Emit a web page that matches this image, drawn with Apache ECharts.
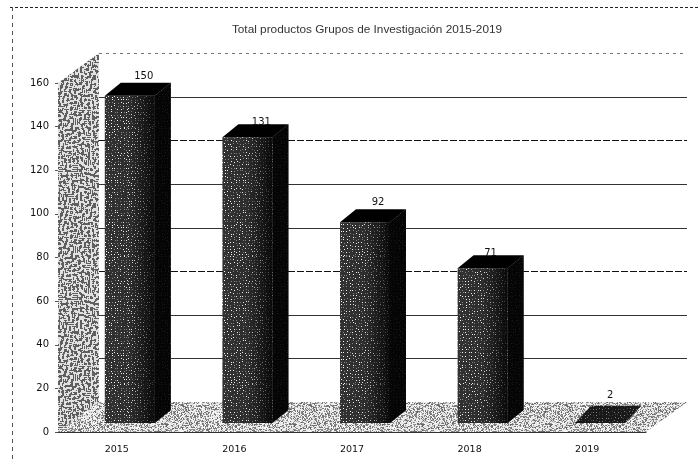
<!DOCTYPE html>
<html>
<head>
<meta charset="utf-8">
<style>html,body{margin:0;padding:0;background:#fff}#c{width:699px;height:463px}</style>
<script src="https://cdn.jsdelivr.net/npm/echarts@6/dist/echarts.min.js"></script>
</head>
<body>
<div id="c"></div>
<script>
var titleText = 'Total productos Grupos de Investigación 2015-2019';
var categories = ['2015', '2016', '2017', '2018', '2019'];
var values = [150, 131, 92, 71, 2];
var yTicks = [20, 40, 60, 80, 100, 120, 140, 160];
var dashedTicks = [120, 60];
var faintTicks = [160];
var labelLift = [1, -3, 2, -3, 5];
var labelShift = [-1, -1, -2, -7, -5];

// 3D projection, in pixels
var WALL_DX = 41, WALL_DY = 30;
var BAR_DX = 13, BAR_DY = 9, BAR_DEPTH_X = 16, BAR_DEPTH_Y = 13;

function rng(seed) {
  var s = seed >>> 0;
  return function () { s = (Math.imul(s, 1664525) + 1013904223) >>> 0; return s / 4294967296; };
}
function makeTile(n, paint) {
  var cv = document.createElement('canvas');
  cv.width = cv.height = n;
  var ctx = cv.getContext('2d');
  var img = ctx.createImageData(n, n);
  for (var y = 0; y < n; y++) for (var x = 0; x < n; x++) {
    var g = paint(x, y), i = (y * n + x) * 4;
    img.data[i] = img.data[i + 1] = img.data[i + 2] = g;
    img.data[i + 3] = 255;
  }
  ctx.putImageData(img, 0, 0);
  return cv;
}
function labyrinth() {
  var n = 128, r = rng(7), a = [];
  for (var i = 0; i < n * n; i++) a.push(r() > 0.5 ? 1 : 0);
  function box(src, x, y, rad) {
    var sum = 0, c = 0;
    for (var dy = -rad; dy <= rad; dy++) for (var dx = -rad; dx <= rad; dx++) {
      sum += src[((y + dy + n) % n) * n + (x + dx + n) % n]; c++;
    }
    return sum / c;
  }
  for (var pass = 0; pass < 2; pass++) {
    var b = [];
    for (var y = 0; y < n; y++) for (var x = 0; x < n; x++) {
      b.push(box(a, x, y, 1) - box(a, x, y, 2) > -0.01 ? 1 : 0);
    }
    a = b;
  }
  return makeTile(n, function (x, y) { return a[y * n + x] ? 225 : 95; });
}
function stipple(seed, pDark) {
  var r = rng(seed);
  return makeTile(128, function () {
    var t = r();
    return t < pDark ? 95 + r() * 70 : 215 + r() * 40;
  });
}
function dots(seed, base, step, pDot, bright) {
  var n = 128, r = rng(seed), cells = {};
  for (var gy = 0; gy < n; gy += step) for (var gx = 0; gx < n; gx += step) {
    if (r() < pDot) {
      var px = gx + Math.floor(r() * (step - 1)), py = gy + Math.floor(r() * (step - 1));
      cells[py * n + px] = r() < 0.5 ? bright : bright * 0.55;
    }
  }
  return makeTile(n, function (x, y) { return cells[y * n + x] || base; });
}
var wallFill = { image: labyrinth(), repeat: 'repeat' };
var floorFill = { image: stipple(11, 0.42), repeat: 'repeat' };
var barFill = { image: dots(21, 50, 3, 0.98, 252), repeat: 'repeat' };

function poly(points, fill) {
  return { type: 'polygon', silent: true, shape: { points: points }, style: { fill: fill } };
}

function renderStage(params, api) {
  var cs = params.coordSys;
  var left = cs.x, right = cs.x + cs.width;
  var y0 = api.coord([0, 0])[1], yTop = api.coord([0, 160])[1];
  var children = [
    poly([[left, y0], [left + WALL_DX, y0 - WALL_DY], [left + WALL_DX, yTop - WALL_DY], [left, yTop]], wallFill),
    poly([[left, y0], [right, y0], [right + WALL_DX, y0 - WALL_DY], [left + WALL_DX, y0 - WALL_DY]], floorFill)
  ];
  yTicks.forEach(function (t) {
    var y = Math.round(api.coord([0, t])[1] - WALL_DY) + 0.5;
    var faint = faintTicks.indexOf(t) >= 0, dashed = dashedTicks.indexOf(t) >= 0;
    children.push({
      type: 'line', silent: true,
      shape: { x1: left + WALL_DX, y1: y, x2: right + WALL_DX, y2: y },
      style: {
        stroke: faint ? '#777' : (dashed ? '#111' : '#333'),
        lineWidth: 1,
        lineDash: faint ? [3, 4] : (dashed ? [7, 2] : null)
      }
    });
  });
  return { type: 'group', children: children };
}

function renderBar(params, api) {
  var idx = api.value(0), val = api.value(1);
  var band = api.size([1, 0])[0];
  var w = band * 0.425;
  var base = api.coord([idx, 0]), top = api.coord([idx, val]);
  var xl = base[0] + BAR_DX - w / 2, xr = xl + w;
  var yb = base[1] - BAR_DY, yt = top[1] - BAR_DY;
  var dx = BAR_DEPTH_X, dy = BAR_DEPTH_Y;
  var children = [];
  var isFlat = yb - yt <= 6;
  if (!isFlat) {
    var shade = new echarts.graphic.LinearGradient(0, 0, 1, 0, [
      { offset: 0, color: 'rgba(0,0,0,0)' },
      { offset: 0.5, color: 'rgba(0,0,0,0.1)' },
      { offset: 1, color: 'rgba(0,0,0,0.82)' }
    ]);
    var frontPts = [[xl, yb], [xr, yb], [xr, yt], [xl, yt]];
    var sidePts = [[xr, yb], [xr + dx, yb - dy], [xr + dx, yt - dy], [xr, yt]];
    children.push(poly(frontPts, barFill));
    children.push(poly(frontPts, shade));
    children.push(poly(sidePts, barFill));
    children.push(poly(sidePts, 'rgba(0,0,0,0.9)'));
    children.push(poly([[xl, yt], [xr, yt], [xr + dx, yt - dy], [xl + dx, yt - dy]], '#000'));
  } else {
    var flat = [[xl, yb], [xr, yb], [xr + dx, yt - dy], [xl + dx, yt - dy]];
    children.push(poly(flat, barFill));
    children.push(poly(flat, 'rgba(0,0,0,0.5)'));
  }
  children.push({
    type: 'text', silent: true,
    style: {
      x: xl + w / 2 + dx - 1 + labelShift[idx], y: yt - dy - labelLift[idx],
      text: String(val), fill: '#111', font: '10px "DejaVu Sans"',
      textAlign: 'center', textVerticalAlign: 'bottom'
    }
  });
  return { type: 'group', children: children };
}

var chart = echarts.init(document.getElementById('c'), null, { renderer: 'canvas', width: 699, height: 463 });
chart.setOption({
  animation: false,
  backgroundColor: '#fff',
  title: {
    text: titleText, left: 362, top: 19, textAlign: 'center',
    textStyle: { fontFamily: 'Liberation Sans', fontSize: 11.8, fontWeight: 'normal', color: '#333' }
  },
  grid: { left: 58, right: 53, top: 83, bottom: 31, containLabel: false },
  xAxis: {
    type: 'category', data: categories,
    axisLine: { show: true, lineStyle: { color: '#333', width: 1 } },
    axisTick: { show: false },
    axisLabel: { margin: 13, color: '#111', fontFamily: 'DejaVu Sans', fontSize: 9.5 }
  },
  yAxis: {
    type: 'value', min: 0, max: 160, interval: 20,
    axisLine: { show: false },
    axisTick: { show: true, length: 3, lineStyle: { color: '#555' } },
    axisLabel: { margin: 9, color: '#111', fontFamily: 'DejaVu Sans', fontSize: 10 },
    splitLine: { show: false }
  },
  graphic: [
    { type: 'line', silent: true, shape: { x1: 10, y1: 7.5, x2: 699, y2: 7.5 }, style: { stroke: '#222', lineWidth: 1, lineDash: [3, 2] } },
    { type: 'line', silent: true, shape: { x1: 12.5, y1: 7, x2: 12.5, y2: 463 }, style: { stroke: '#555', lineWidth: 1, lineDash: [4, 4] } }
  ],
  series: [
    { type: 'custom', name: 'stage', z: 1, clip: false, silent: true, data: [[0, 0]], encode: { x: 0, y: 1 }, renderItem: renderStage },
    { type: 'custom', name: 'Total', z: 3, clip: false, silent: true, encode: { x: 0, y: 1 },
      data: categories.map(function (c, i) { return [i, values[i]]; }), renderItem: renderBar }
  ]
});
</script>
</body>
</html>
